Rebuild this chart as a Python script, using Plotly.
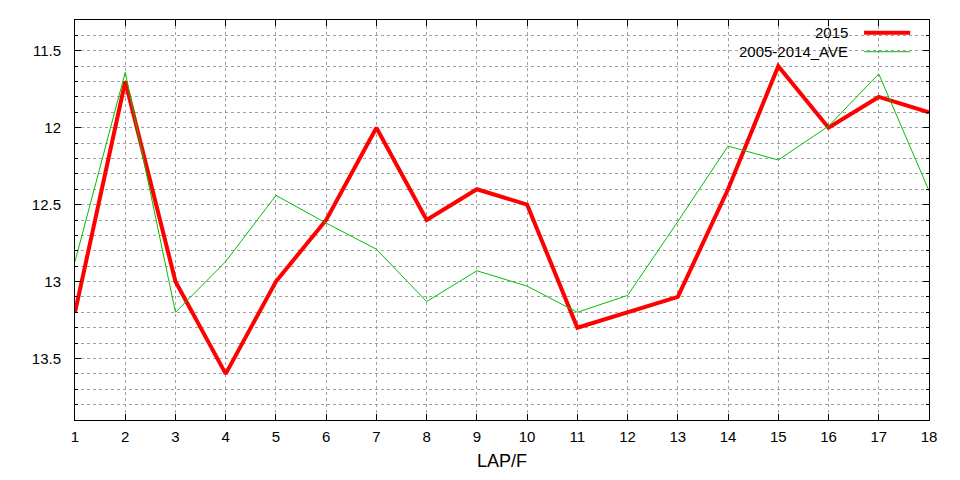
import plotly.graph_objects as go

laps = list(range(1, 19))
times_2015 = [13.2, 11.7, 13.0, 13.6, 13.0, 12.6, 12.0, 12.6, 12.4, 12.5,
              13.3, 13.2, 13.1, 12.4, 11.6, 12.0, 11.8, 11.9]
times_ave = [12.87, 11.64, 13.2, 12.87, 12.44, 12.62, 12.79, 13.13, 12.93, 13.03,
             13.2, 13.09, 12.61, 12.12, 12.21, 11.99, 11.65, 12.41]
names = ["2015", "2005-2014_AVE"]
colors = ["#ff0000", "#00c000"]
widths = [4, 1]

fig = go.Figure()
for name, ys, color, w in zip(names, [times_2015, times_ave], colors, widths):
    fig.add_trace(go.Scatter(x=laps, y=ys, mode="lines", name=name,
                             line=dict(color=color, width=w), showlegend=False))

# gnuplot-style key: label on the left, line sample on the right
key_y = [0.968, 0.9207]
for name, color, w, ky in zip(names, colors, widths, key_y):
    fig.add_annotation(x=0.907, y=ky, xref="paper", yref="paper", text=name,
                       showarrow=False, xanchor="right", yanchor="middle",
                       font=dict(size=15, color="#000000"))
    fig.add_shape(type="line", xref="paper", yref="paper", x0=0.924, x1=0.978,
                  y0=ky, y1=ky, line=dict(color=color, width=w))

# page body adds ~8px offset, margins compensate for it
fig.update_layout(
    width=960, height=480,
    margin=dict(l=67, r=39, t=12, b=68),
    paper_bgcolor="white", plot_bgcolor="white",
    font=dict(family="Liberation Sans, Arial, sans-serif", size=15, color="#000000"),
)
fig.update_xaxes(
    range=[1, 18], dtick=1, ticks="inside", ticklen=6, tickcolor="black",
    showline=True, linecolor="black", linewidth=1, mirror="ticks",
    showgrid=True, gridcolor="#a0a0a0", griddash="dot", gridwidth=1,
    zeroline=False, ticklabelstandoff=3,
    title=dict(text="LAP/F", standoff=10),
)
fig.update_yaxes(
    range=[13.9, 11.3], dtick=0.5, tick0=11.5, ticks="inside", ticklen=6, tickcolor="black",
    showline=True, linecolor="black", linewidth=1, mirror="ticks",
    showgrid=True, gridcolor="#a0a0a0", griddash="dot", gridwidth=1,
    zeroline=False, ticklabelstandoff=10,
    minor=dict(dtick=0.1, tick0=11.3, ticks="inside", ticklen=3, tickcolor="black",
               showgrid=True, gridcolor="#a0a0a0", griddash="dot", gridwidth=1),
)

fig.write_html("out.html")
